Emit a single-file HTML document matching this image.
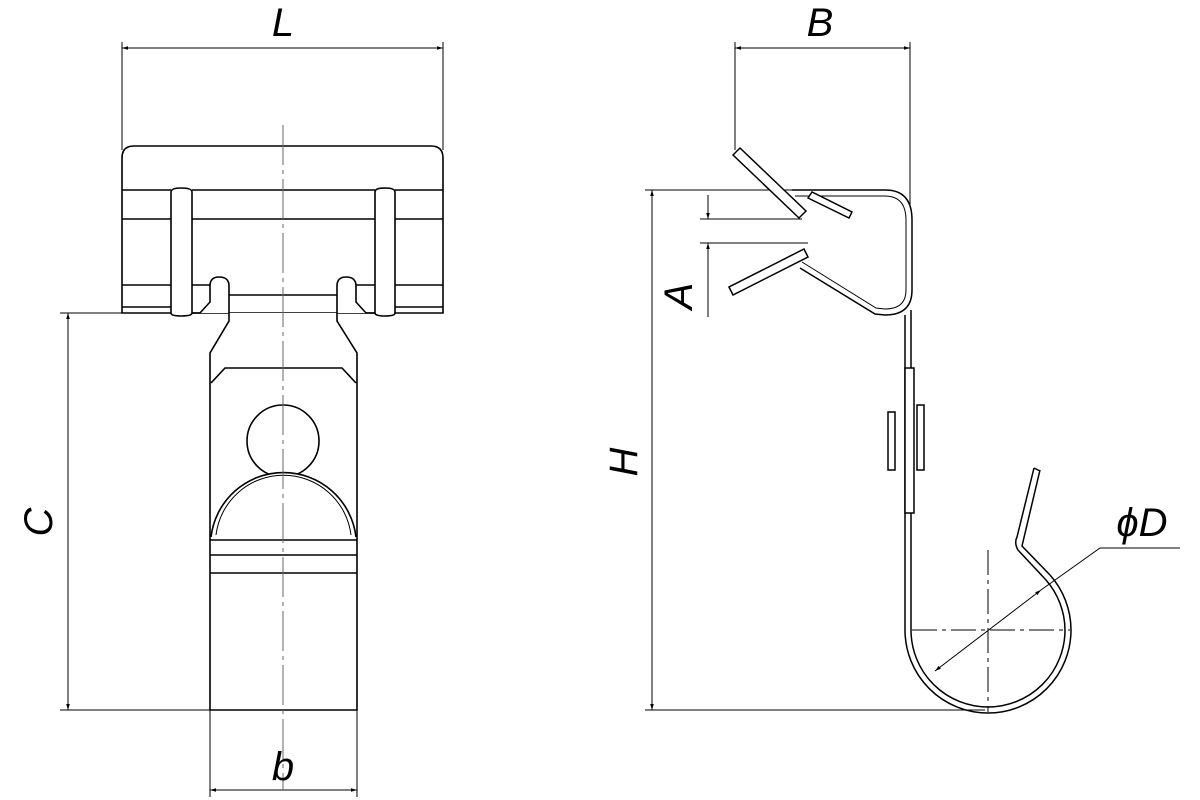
<!DOCTYPE html>
<html><head><meta charset="utf-8"><style>
html,body{margin:0;padding:0;background:#fff;}
svg{display:block}
text{font-family:"Liberation Sans",sans-serif;font-style:italic;fill:#000}
</style></head><body>
<svg width="1200" height="800" viewBox="0 0 1200 800" xmlns="http://www.w3.org/2000/svg">
<defs>
<marker id="ar" viewBox="0 0 10 10" refX="10" refY="5" markerWidth="10" markerHeight="6" orient="auto-start-reverse" markerUnits="userSpaceOnUse"><path d="M0,2 L10,5 L0,8 z" fill="#000"/></marker>
</defs>
<g fill="none" stroke="#000" stroke-width="1">
<!-- L dim -->
<line x1="122" y1="42" x2="122" y2="150"/><line x1="443" y1="42" x2="443" y2="150"/>
<line x1="122" y1="48" x2="443" y2="48" marker-start="url(#ar)" marker-end="url(#ar)"/>
<!-- C dim -->
<line x1="60" y1="313" x2="122" y2="313"/><line x1="60" y1="710" x2="210" y2="710"/>
<line x1="68" y1="313" x2="68" y2="710" marker-start="url(#ar)" marker-end="url(#ar)"/>
<!-- b dim -->
<line x1="210" y1="710" x2="210" y2="797"/><line x1="357" y1="710" x2="357" y2="797"/>
<line x1="210" y1="790" x2="357" y2="790" marker-start="url(#ar)" marker-end="url(#ar)"/>
<!-- center line -->
<line x1="283" y1="125" x2="283" y2="790" stroke="#666" stroke-dasharray="40,5,4,5"/>
</g>
<g fill="none" stroke="#000" stroke-width="1.6">
<!-- top box -->
<path d="M122,313 L122,158 Q122,146 134,146 L431,146 Q443,146 443,158 L443,313 Z"/>
<line x1="122" y1="190" x2="171" y2="190"/><line x1="192" y1="190" x2="375" y2="190"/><line x1="395" y1="190" x2="443" y2="190"/>
<line x1="122" y1="219" x2="171" y2="219"/><line x1="192" y1="219" x2="375" y2="219"/><line x1="395" y1="219" x2="443" y2="219"/>
<line x1="122" y1="285" x2="171" y2="285"/><line x1="192" y1="285" x2="210" y2="285"/><line x1="356" y1="285" x2="375" y2="285"/><line x1="395" y1="285" x2="443" y2="285"/>
<line x1="122" y1="307" x2="171" y2="307"/><line x1="395" y1="307" x2="443" y2="307"/>
<!-- bands -->
<path d="M171,192 Q171,188 181,188 Q192,188 192,192 L192,313 Q192,316 181,316 Q171,316 171,313 Z" fill="#fff"/>
<path d="M375,192 Q375,188 385,188 Q395,188 395,192 L395,313 Q395,316 385,316 Q375,316 375,313 Z" fill="#fff"/>
<!-- ears & neck -->
<path d="M192,313 L200,313 L210,302 L210,286 Q210,277 219,277 Q229,277 229,286 L229,321 L210,353 L210,710 L357,710 L357,353 L337,321 L337,286 Q337,277 346,277 Q356,277 356,286 L356,302 L366,313 L375,313" fill="#fff"/>
<line x1="229" y1="295" x2="337" y2="295"/>
<path d="M211,383 L225,368 L342,368 L356,383"/>
<circle cx="283" cy="441" r="36"/>
<path d="M211,537 A73,73 0 0 1 356,537" fill="#fff"/>
<path d="M216,535 A68,68 0 0 1 351,535" stroke-width="1"/>
<line x1="210" y1="540" x2="357" y2="540"/><line x1="210" y1="555" x2="357" y2="555"/><line x1="210" y1="573" x2="357" y2="573"/>
</g>
<line x1="283" y1="125" x2="283" y2="790" stroke="#666" stroke-width="1" stroke-dasharray="40,5,4,5"/>

<!-- right view dims -->
<g fill="none" stroke="#000" stroke-width="1">
<line x1="735" y1="42" x2="735" y2="150"/><line x1="910" y1="42" x2="910" y2="205"/>
<line x1="735" y1="48" x2="910" y2="48" marker-start="url(#ar)" marker-end="url(#ar)"/>
<line x1="645" y1="190" x2="795" y2="190"/><line x1="645" y1="710" x2="985" y2="710"/>
<line x1="652" y1="190" x2="652" y2="710" marker-start="url(#ar)" marker-end="url(#ar)"/>
<line x1="700" y1="219" x2="802" y2="219"/><line x1="700" y1="243" x2="808" y2="243"/>
<line x1="708" y1="195" x2="708" y2="219" marker-end="url(#ar)"/>
<line x1="708" y1="317" x2="708" y2="243" marker-end="url(#ar)"/>
<!-- D leader -->
<line x1="988" y1="550" x2="988" y2="712" stroke-dasharray="25,5,4,5"/>
<line x1="912" y1="630" x2="1070" y2="630" stroke-dasharray="25,5,4,5"/>
<line x1="935" y1="671" x2="1041" y2="590" marker-start="url(#ar)" marker-end="url(#ar)"/>
<polyline points="1041,590 1100,548 1180,548"/>
</g>
<g fill="#fff" stroke="#000" stroke-width="1.5">
<!-- clip body -->
<path d="M792,190 L885,190 Q912,190 912,220 L912,290 Q912,315 885,315 L875,314 L800,268" fill="none"/>
<path d="M795,196 L885,196 Q906,196 906,220 L906,290 Q906,309 885,309 L876,308 L802,262" fill="none" stroke-width="1"/>
<!-- tabs -->
<polygon points="733,155 740,148 806,211 799,218"/>
<polygon points="808,198 812,192 852,212 849,218"/>
<polygon points="729,287 733,295 808,257 804,249"/>
<!-- vertical strip -->
<line x1="905" y1="315" x2="905" y2="630" fill="none"/>
<line x1="911" y1="310" x2="911" y2="630" fill="none"/>
<rect x="905" y="368" width="9" height="145"/>
<rect x="888" y="412" width="7" height="58"/>
<rect x="917" y="405" width="7" height="65"/>
<!-- hook -->
<path d="M905,630 A83,83 0 0 0 1071,630 A83,83 0 0 0 1050,575 L1022,546 L1040,470" fill="none"/>
<path d="M911,630 A77,77 0 0 0 1065,630 A77,77 0 0 0 1046,580 L1018,550 Q1014,543 1017,537 L1034,468" fill="none"/>
<line x1="1034" y1="468" x2="1040" y2="471" fill="none"/>
</g>
<!-- labels -->
<text x="283" y="36" font-size="40" text-anchor="middle">L</text>
<text x="820" y="36" font-size="40" text-anchor="middle">B</text>
<text x="283" y="780" font-size="40" text-anchor="middle">b</text>
<text x="1142" y="536" font-size="40" text-anchor="middle">ϕD</text>
<text transform="translate(52,522) rotate(-90)" font-size="40" text-anchor="middle">C</text>
<text transform="translate(637,462) rotate(-90)" font-size="40" text-anchor="middle">H</text>
<text transform="translate(692,296) rotate(-90)" font-size="40" text-anchor="middle">A</text>
</svg>
</body></html>
